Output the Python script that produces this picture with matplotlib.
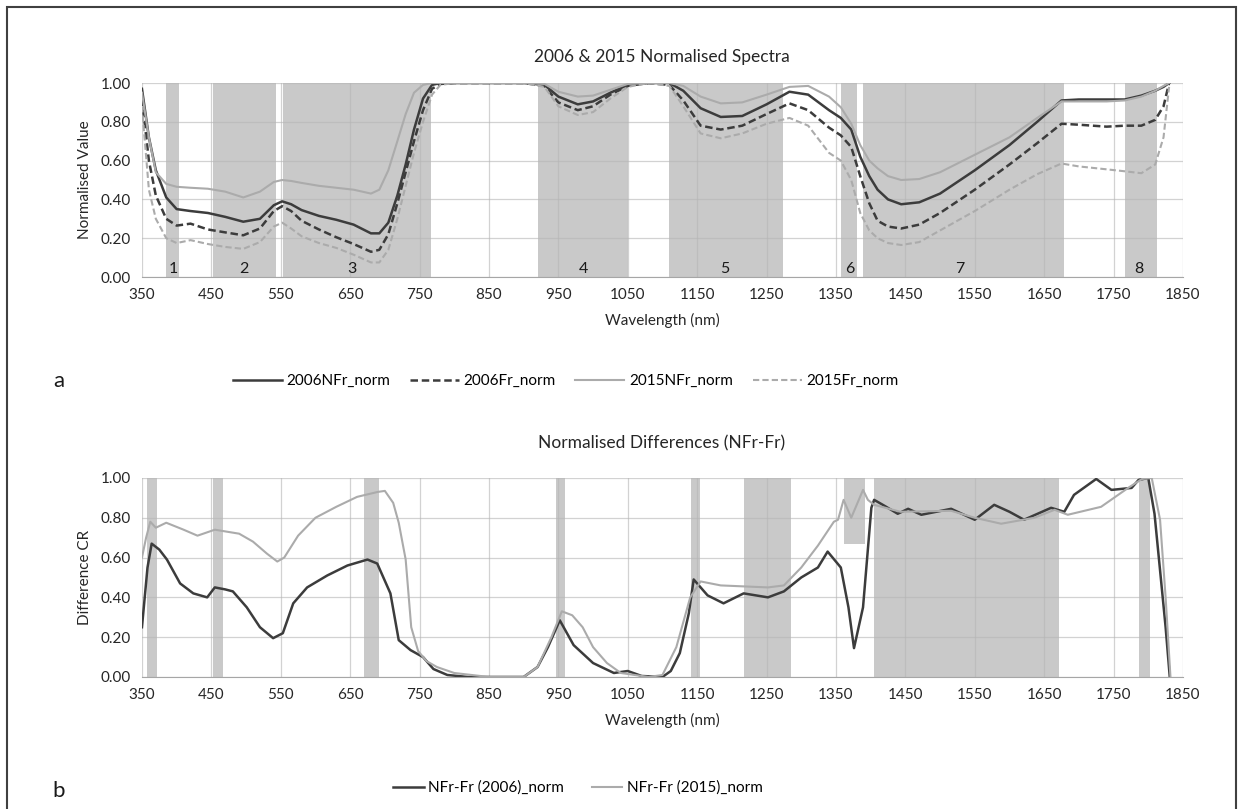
import numpy as np
import matplotlib.pyplot as plt
from matplotlib.patches import Rectangle

plt.rcParams['font.family'] = ['Lato', 'DejaVu Sans']

# ---- top panel: normalised spectra ----
wl = [350, 360, 370, 385, 400, 420, 445, 470, 496, 520, 540, 552, 565, 580, 605, 630, 655, 680, 692,
      705, 718, 730, 742, 755, 768, 780, 800, 850, 900, 930, 950, 978, 1000, 1025, 1050, 1080, 1110,
      1130, 1155, 1184, 1215, 1250, 1283, 1310, 1340, 1357, 1372, 1385, 1398, 1410, 1425, 1444, 1470,
      1500, 1550, 1600, 1640, 1675, 1700, 1740, 1766, 1790, 1810, 1822, 1830]

nfr_2006 = [0.97, 0.72, 0.55, 0.41, 0.35, 0.34, 0.33, 0.31, 0.285, 0.30, 0.37, 0.39, 0.375, 0.345, 0.315,
            0.295, 0.27, 0.225, 0.225, 0.28, 0.42, 0.58, 0.76, 0.92, 0.99, 1.0, 1.0, 1.0, 1.0, 0.99, 0.93,
            0.89, 0.905, 0.95, 0.99, 1.0, 1.0, 0.96, 0.87, 0.825, 0.83, 0.89, 0.955, 0.94, 0.86, 0.82,
            0.76, 0.62, 0.52, 0.45, 0.40, 0.375, 0.385, 0.43, 0.55, 0.68, 0.80, 0.91, 0.915, 0.915, 0.915,
            0.935, 0.96, 0.98, 1.0]
fr_2006 = [0.92, 0.60, 0.42, 0.30, 0.265, 0.275, 0.245, 0.23, 0.215, 0.25, 0.34, 0.365, 0.34, 0.29, 0.245,
           0.205, 0.17, 0.13, 0.14, 0.22, 0.38, 0.54, 0.70, 0.86, 0.97, 0.995, 1.0, 1.0, 1.0, 0.985, 0.90,
           0.86, 0.88, 0.94, 0.985, 1.0, 0.99, 0.91, 0.78, 0.76, 0.78, 0.84, 0.895, 0.86, 0.77, 0.73,
           0.67, 0.52, 0.38, 0.29, 0.26, 0.25, 0.27, 0.33, 0.45, 0.58, 0.69, 0.79, 0.785, 0.775, 0.78,
           0.78, 0.81, 0.88, 1.0]
nfr_2015 = [0.95, 0.72, 0.54, 0.48, 0.465, 0.46, 0.455, 0.44, 0.41, 0.44, 0.49, 0.50, 0.495, 0.485, 0.47,
            0.46, 0.45, 0.43, 0.45, 0.55, 0.70, 0.84, 0.95, 0.99, 1.0, 1.0, 1.0, 1.0, 1.0, 0.995, 0.955,
            0.93, 0.935, 0.965, 0.995, 1.0, 1.0, 0.985, 0.93, 0.895, 0.90, 0.94, 0.98, 0.985, 0.93, 0.875,
            0.79, 0.68, 0.60, 0.56, 0.52, 0.50, 0.505, 0.54, 0.63, 0.72, 0.82, 0.905, 0.905, 0.905, 0.91,
            0.93, 0.96, 0.985, 1.0]
fr_2015 = [0.88, 0.45, 0.30, 0.20, 0.175, 0.19, 0.17, 0.155, 0.145, 0.18, 0.26, 0.28, 0.25, 0.21, 0.175,
           0.15, 0.115, 0.075, 0.075, 0.14, 0.30, 0.47, 0.64, 0.80, 0.94, 0.99, 1.0, 1.0, 1.0, 0.98, 0.88,
           0.835, 0.85, 0.92, 0.98, 1.0, 0.985, 0.88, 0.74, 0.715, 0.74, 0.79, 0.82, 0.78, 0.64, 0.60,
           0.50, 0.33, 0.24, 0.20, 0.175, 0.165, 0.18, 0.24, 0.34, 0.45, 0.53, 0.585, 0.57, 0.555, 0.545,
           0.535, 0.58, 0.72, 0.98]

# absorption regions (top)
regions_a = [(385, 404), (452, 543), (553, 766), (921, 1051), (1109, 1273),
             (1357, 1380), (1389, 1679), (1766, 1812)]
region_labels = ['1', '2', '3', '4', '5', '6', '7', '8']
label_pos = [395, 497, 652, 986, 1190, 1370, 1529, 1786]

# ---- bottom panel: normalised differences ----
wl_d06 = [350, 358, 364, 375, 386, 405, 424, 444, 455, 470, 481, 501, 520, 539, 553, 568, 588, 617, 646,
          675, 689, 708, 720, 737, 755, 770, 790, 820, 900, 920, 935, 952, 972, 1000, 1030, 1050, 1070,
          1100, 1112, 1125, 1138, 1145, 1165, 1188, 1217, 1252, 1275, 1300, 1324, 1338, 1357, 1368, 1376,
          1389, 1401, 1405, 1420, 1439, 1454, 1473, 1516, 1550, 1578, 1600, 1621, 1660, 1679, 1693, 1725,
          1747, 1776, 1786, 1800, 1809, 1818, 1825, 1831]
diff_2006 = [0.25, 0.55, 0.67, 0.64, 0.59, 0.47, 0.42, 0.40, 0.45, 0.44, 0.43, 0.35, 0.25, 0.195, 0.22,
             0.37, 0.45, 0.51, 0.56, 0.59, 0.57, 0.42, 0.185, 0.135, 0.10, 0.04, 0.01, 0.0, 0.0, 0.05,
             0.15, 0.285, 0.16, 0.07, 0.02, 0.03, 0.005, 0.0, 0.03, 0.12, 0.32, 0.49, 0.41, 0.37, 0.42,
             0.40, 0.43, 0.50, 0.55, 0.63, 0.55, 0.35, 0.145, 0.35, 0.85, 0.89, 0.86, 0.82, 0.845, 0.815,
             0.845, 0.79, 0.865, 0.83, 0.79, 0.85, 0.83, 0.915, 0.995, 0.94, 0.95, 0.99, 1.0, 0.82, 0.5,
             0.25, 0.0]

wl_d15 = [350, 356, 362, 370, 385, 410, 430, 455, 490, 510, 530, 545, 555, 575, 600, 630, 660, 690, 700,
          712, 720, 730, 738, 748, 760, 775, 800, 850, 900, 920, 940, 955, 970, 985, 1000, 1020, 1040,
          1080, 1100, 1120, 1140, 1155, 1184, 1252, 1275, 1300, 1324, 1347, 1353, 1361, 1372, 1389, 1396,
          1405, 1443, 1516, 1550, 1588, 1636, 1665, 1684, 1732, 1771, 1791, 1805, 1817, 1825, 1832]
diff_2015 = [0.60, 0.70, 0.78, 0.75, 0.775, 0.74, 0.71, 0.74, 0.72, 0.68, 0.62, 0.58, 0.60, 0.71, 0.80,
             0.855, 0.905, 0.93, 0.935, 0.875, 0.775, 0.59, 0.25, 0.13, 0.08, 0.05, 0.02, 0.0, 0.0, 0.05,
             0.20, 0.33, 0.31, 0.25, 0.15, 0.07, 0.02, 0.0, 0.01, 0.15, 0.40, 0.48, 0.46, 0.45, 0.46, 0.55,
             0.66, 0.78, 0.79, 0.89, 0.80, 0.94, 0.89, 0.865, 0.83, 0.835, 0.80, 0.77, 0.80, 0.84, 0.815,
             0.855, 0.95, 0.995, 1.0, 0.79, 0.40, 0.0]

regions_b = [(357, 372), (452, 467), (670, 692), (947, 959), (1141, 1154),
             (1217, 1285), (1405, 1672), (1786, 1802)]
region_b_part = (1361, 1392, 0.67, 1.0)

dark = '#3c3c3c'
light = '#ababab'
shade = '#c9c9c9'

fig = plt.figure(figsize=(12.43, 8.09), dpi=100)
fig.patches.append(Rectangle((0.0056, -0.02), 0.9888, 1.0113, transform=fig.transFigure,
                             fill=False, edgecolor='#404040', linewidth=1.5))


def style_axes(ax):
    ax.set_xlim(350, 1850)
    ax.set_ylim(0, 1.0)
    ax.set_xticks(np.arange(350, 1851, 100))
    ax.set_yticks(np.arange(0, 1.01, 0.2))
    ax.set_yticklabels(['%.2f' % v for v in np.arange(0, 1.01, 0.2)])
    ax.grid(True, color='#b5b5b5', alpha=0.6, linewidth=0.9)
    for s in ['top', 'right', 'left']:
        ax.spines[s].set_visible(False)
    ax.spines['bottom'].set_color('#a6a6a6')
    ax.tick_params(length=0, labelsize=11, colors='#262626', pad=8)
    ax.set_xlabel('Wavelength (nm)', fontsize=11, color='#262626', labelpad=8)


ax1 = fig.add_axes([0.1142, 0.6576, 0.8375, 0.2398])
for a, b in regions_a:
    ax1.axvspan(a, b, color=shade, zorder=0, linewidth=0)
ax1.plot(wl, nfr_2006, color=dark, lw=1.8, label='2006NFr_norm')
ax1.plot(wl, fr_2006, color=dark, lw=1.8, ls=(0, (3, 1.5)), label='2006Fr_norm')
ax1.plot(wl, nfr_2015, color=light, lw=1.5, label='2015NFr_norm')
ax1.plot(wl, fr_2015, color=light, lw=1.5, ls=(0, (3, 1.5)), label='2015Fr_norm')
for t, x in zip(region_labels, label_pos):
    ax1.text(x, 0.04, t, ha='center', va='center', fontsize=11.5, color='#1a1a1a')
style_axes(ax1)
ax1.set_ylabel('Normalised Value', fontsize=11, color='#262626', labelpad=6)
fig.text(0.5326, 0.9295, '2006 & 2015 Normalised Spectra', ha='center', va='center',
         fontsize=12.5, color='#262626')
fig.legend(*ax1.get_legend_handles_labels(), loc='center', bbox_to_anchor=(0.455, 0.529), ncol=4,
           frameon=False, fontsize=11, handlelength=3.2, columnspacing=1.3, handletextpad=0.3)
fig.text(0.047, 0.529, 'a', ha='center', va='center', fontsize=16, color='#1a1a1a')

ax2 = fig.add_axes([0.1142, 0.1632, 0.8375, 0.2460])
for a, b in regions_b:
    ax2.axvspan(a, b, color=shade, zorder=0, linewidth=0)
ax2.axvspan(region_b_part[0], region_b_part[1], ymin=region_b_part[2], ymax=region_b_part[3],
            color=shade, zorder=0, linewidth=0)
ax2.plot(wl_d06, diff_2006, color=dark, lw=1.8, label='NFr-Fr (2006)_norm')
ax2.plot(wl_d15, diff_2015, color=light, lw=1.5, label='NFr-Fr (2015)_norm')
style_axes(ax2)
ax2.set_ylabel('Difference CR', fontsize=11, color='#262626', labelpad=6)
fig.text(0.5326, 0.4524, 'Normalised Differences (NFr-Fr)', ha='center', va='center',
         fontsize=12.5, color='#262626')
fig.legend(*ax2.get_legend_handles_labels(), loc='center', bbox_to_anchor=(0.465, 0.026), ncol=2,
           frameon=False, fontsize=11, handlelength=2.0, columnspacing=1.8, handletextpad=0.3)
fig.text(0.047, 0.022, 'b', ha='center', va='center', fontsize=16, color='#1a1a1a')

fig.savefig('out.png', dpi=100)
